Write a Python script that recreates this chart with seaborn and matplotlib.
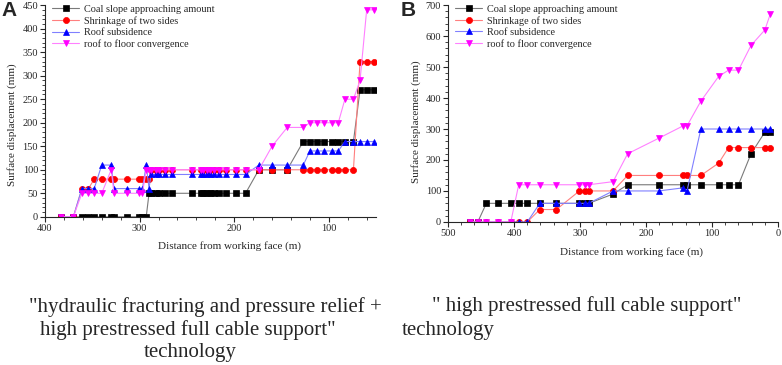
import matplotlib
matplotlib.use('Agg')
import matplotlib.pyplot as plt
import seaborn as sns
import pandas as pd

# ---- data: panel A ("hydraulic fracturing + ..." technology) ----
dist_a = [383, 370, 361, 354, 348, 340, 330, 327, 313, 301, 297, 293, 290, 288, 283,
          279, 273, 266, 245, 235, 233, 229, 226, 221, 216, 209, 198, 188, 174, 160,
          144, 127, 120, 112, 105, 97, 90, 83, 74, 67, 60, 52]
coal_a = [0, 0, 0, 0, 0, 0, 0, 0, 0, 0, 0, 0, 50, 50, 50, 50, 50, 50, 50, 50, 50, 50,
          50, 50, 50, 50, 50, 50, 100, 100, 100, 160, 160, 160, 160, 160, 160, 160, 160,
          270, 270, 270]
shrink_a = [0, 0, 60, 60, 80, 80, 80, 80, 80, 80, 80, 80, 80, 100, 100, 100, 100, 100,
            100, 100, 100, 100, 100, 100, 100, 100, 100, 100, 100, 100, 100, 100, 100,
            100, 100, 100, 100, 100, 100, 330, 330, 330]
roof_a = [0, 0, 60, 60, 60, 110, 110, 60, 60, 60, 60, 110, 60, 90, 90, 90, 90, 90, 90,
          90, 90, 90, 90, 90, 90, 90, 90, 90, 110, 110, 110, 110, 140, 140, 140, 140,
          140, 160, 160, 160, 160, 160]
conv_a = [0, 0, 50, 50, 50, 50, 100, 50, 50, 50, 50, 100, 100, 100, 100, 100, 100, 100,
          100, 100, 100, 100, 100, 100, 100, 100, 100, 100, 100, 150, 190, 190, 200, 200,
          200, 200, 200, 250, 250, 290, 440, 440]

# ---- data: panel B ("high prestressed full cable support" technology) ----
dist_b = [467, 455, 442, 424, 405, 393, 380, 361, 336, 301, 293, 287, 250, 228, 181,
          144, 138, 117, 90, 75, 60, 41, 20, 12]
coal_b = [0, 0, 60, 60, 60, 60, 60, 60, 60, 60, 60, 60, 90, 120, 120, 120, 120, 120,
          120, 120, 120, 220, 290, 290]
shrink_b = [0, 0, 0, 0, 0, 0, 0, 40, 40, 100, 100, 100, 100, 150, 150, 150, 150, 150,
            190, 240, 240, 240, 240, 240]
roof_b = [0, 0, 0, 0, 0, 0, 0, 60, 60, 60, 60, 60, 100, 100, 100, 110, 100, 300, 300,
          300, 300, 300, 300, 300]
conv_b = [0, 0, 0, 0, 0, 120, 120, 120, 120, 120, 120, 120, 130, 220, 270, 310, 310,
          390, 470, 490, 490, 570, 620, 670]

series_names = ['Coal slope approaching amount', 'Shrinkage of two sides',
                'Roof subsidence', 'roof to floor convergence']

sns.set_style('ticks')
plt.rcParams['font.family'] = ['Liberation Serif', 'DejaVu Serif']
plt.rcParams['xtick.direction'] = 'out'
plt.rcParams['ytick.direction'] = 'out'

# marker colour, line colour, marker, marker size
styles = [('#000000', '#7a7a7a', 's', 3.8),
          ('#ff0000', '#ff7f7f', 'o', 4.4),
          ('#0000ff', '#8080ff', '^', 4.8),
          ('#ff00ff', '#ff80ff', 'v', 5.0)]


def draw_panel(ax, dist, values, xlim, ylim, yticks, xticks, ylab_y):
    for name, y, (mc, lc, mk, ms) in zip(series_names, values, styles):
        df = pd.DataFrame({'dist': dist, 'disp': y})
        sns.lineplot(data=df, x='dist', y='disp', ax=ax, color=lc, linewidth=0.8,
                     marker=mk, markersize=ms, markerfacecolor=mc,
                     markeredgecolor=mc, markeredgewidth=0.5, label=name)
    ax.set_xlim(*xlim)
    ax.set_ylim(*ylim)
    ax.set_yticks(yticks)
    ax.set_xticks(xticks)
    ax.minorticks_on()
    ax.tick_params(which='major', labelsize=7.5, length=3.5, width=0.8, pad=1.5)
    ax.tick_params(which='minor', length=2, width=0.6)
    ax.set_xlabel('Distance from working face (m)', fontsize=8)
    ax.set_ylabel('Surface displacement (mm)', fontsize=8)
    ax.xaxis.set_label_coords(0.557, -0.115)
    ax.yaxis.set_label_coords(-0.083, ylab_y)
    sns.despine(ax=ax)
    ax.legend(loc='upper left', bbox_to_anchor=(0.0, 1.035), frameon=False,
              fontsize=7.4, handlelength=2.6, labelspacing=0.2, borderpad=0.2,
              handletextpad=0.5)


fig = plt.figure(figsize=(7.82, 3.65), dpi=100)
ax_a = fig.add_axes([0.0575, 0.406, 0.4235, 0.58])
ax_b = fig.add_axes([0.573, 0.392, 0.422, 0.594])

draw_panel(ax_a, dist_a, [coal_a, shrink_a, roof_a, conv_a], (400, 50), (0, 450),
           range(0, 451, 50), [400, 300, 200, 100], 0.436)
draw_panel(ax_b, dist_b, [coal_b, shrink_b, roof_b, conv_b], (500, 0), (0, 700),
           range(0, 701, 100), [500, 400, 300, 200, 100, 0], 0.46)

fig.text(0.002, 0.997, 'A', fontsize=15, fontweight='bold', va='top', ha='left',
         family='Liberation Sans')
fig.text(0.512, 0.997, 'B', fontsize=15, fontweight='bold', va='top', ha='left',
         family='Liberation Sans')

cap = 15
fig.text(205 / 782, 1 - 307 / 365, '"hydraulic fracturing and pressure relief +',
         fontsize=cap, ha='center', va='center')
fig.text(188 / 782, 1 - 330 / 365, 'high prestressed full cable support"',
         fontsize=cap, ha='center', va='center')
fig.text(190 / 782, 1 - 353 / 365, 'technology', fontsize=cap, ha='center', va='center')
fig.text(432 / 782, 1 - 306 / 365, '" high prestressed full cable support"',
         fontsize=cap, ha='left', va='center')
fig.text(402 / 782, 1 - 330 / 365, 'technology', fontsize=cap, ha='left', va='center')

fig.savefig('out.png', dpi=100)
